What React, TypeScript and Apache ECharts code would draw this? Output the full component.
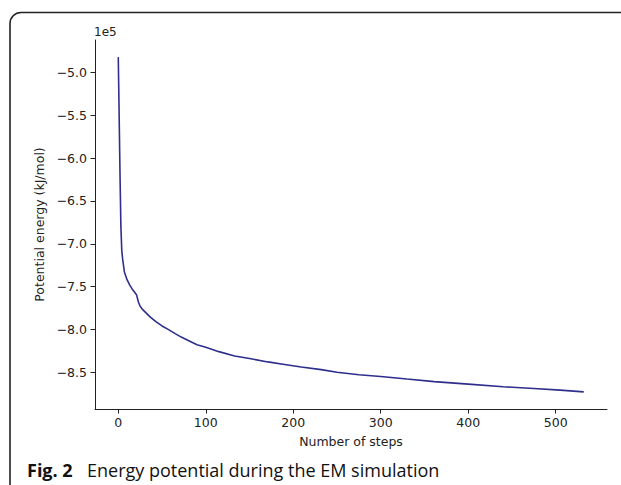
import React, { useEffect, useRef } from "react";
import * as echarts from "echarts";

const steps = [0, 1, 2, 3, 4, 5, 7, 10, 13, 16, 19, 21, 23, 25, 28, 32, 37, 43, 50, 57, 65, 72, 80, 90, 100, 115, 133, 150, 171, 190, 209, 232, 250, 275, 300, 330, 361, 400, 440, 475, 505, 532];
const energies = [-482000, -550000, -620000, -680000, -708000, -718000, -733000, -742000, -748000, -753000, -757000, -760000, -768000, -773000, -777000, -781000, -786000, -791000, -796000, -800000, -805000, -809000, -813000, -818000, -821000, -826000, -831000, -834000, -838000, -841000, -844000, -847000, -850000, -853000, -855000, -858000, -861000, -864000, -867000, -869000, -871000, -873000];
const xTicks = [0, 100, 200, 300, 400, 500];
const yTicks = [-500000, -550000, -600000, -650000, -700000, -750000, -800000, -850000];

const FONT = "DejaVu Sans";
const TXT = "#222";

export default function App() {
  const ref = useRef<HTMLDivElement>(null);
  useEffect(() => {
    if (!ref.current) return;
    const chart = echarts.init(ref.current, undefined, { renderer: "svg" });
    const data = steps.map((s, i) => [s, energies[i]]);
    chart.setOption({
      animation: false,
      backgroundColor: "#fff",
      grid: { left: 95, right: 14, top: 40, bottom: 76 },
      xAxis: {
        type: "value",
        min: -26.6,
        max: 558.6,
        name: "Number of steps",
        nameLocation: "middle",
        nameGap: 26,
        nameTextStyle: { fontFamily: FONT, fontSize: 12.5, color: TXT },
        axisLine: { show: true, onZero: false, lineStyle: { color: "#222", width: 1 } },
        axisTick: { show: true, length: 4.5, customValues: xTicks, lineStyle: { color: "#222" } },
        axisLabel: { customValues: xTicks, margin: 7, fontFamily: FONT, fontSize: 12.5, color: TXT },
        splitLine: { show: false },
      },
      yAxis: {
        type: "value",
        min: -893000,
        max: -462000,
        name: "Potential energy (kJ/mol)",
        nameLocation: "middle",
        nameRotate: 90,
        nameGap: 48,
        nameTextStyle: { fontFamily: FONT, fontSize: 12.5, color: TXT },
        axisLine: { show: true, onZero: false, lineStyle: { color: "#222", width: 1 } },
        axisTick: { show: true, length: 4.5, customValues: yTicks, lineStyle: { color: "#222" } },
        axisLabel: {
          customValues: yTicks,
          margin: 8,
          fontFamily: FONT,
          fontSize: 12.5,
          color: TXT,
          formatter: (v: number) => (v / 1e5).toFixed(1).replace("-", "\u2212"),
        },
        splitLine: { show: false },
      },
      series: [
        {
          type: "line",
          data,
          showSymbol: false,
          symbol: "none",
          lineStyle: { color: "#2e2e8c", width: 1.6 },
        },
      ],
      graphic: [
        {
          type: "rect",
          shape: { x: 10, y: 12.5, width: 700, height: 600, r: 11 },
          style: { fill: "none", stroke: "#222", lineWidth: 1.6 },
          silent: true,
        },
        {
          type: "text",
          left: 94,
          top: 26,
          style: { text: "1e5", fontFamily: FONT, fontSize: 12, fill: TXT },
        },
        {
          type: "text",
          x: 27,
          y: 470,
          style: { text: "Fig. 2", fontFamily: "Open Sans", fontWeight: "bold", fontSize: 18, fill: "#111", verticalAlign: "middle" },
        },
        {
          type: "text",
          x: 87,
          y: 470,
          style: { text: "Energy potential during the EM simulation", fontFamily: "Open Sans", fontSize: 18, fill: "#111", verticalAlign: "middle" },
        },
      ],
    });
    return () => chart.dispose();
  }, []);
  return <div ref={ref} style={{ position: "fixed", left: 0, top: 0, width: 621, height: 485 }} />;
}
